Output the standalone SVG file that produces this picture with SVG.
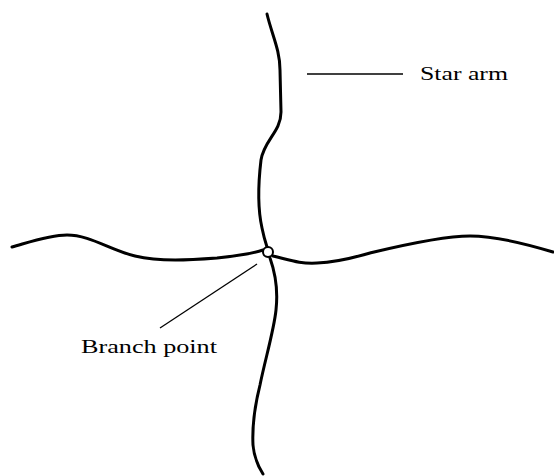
<svg xmlns="http://www.w3.org/2000/svg" width="554" height="476" viewBox="0 0 554 476">
  <style>
    .arm { fill: none; stroke: #000; stroke-width: 3; stroke-linecap: round; stroke-linejoin: round; }
    .lead { fill: none; stroke: #000; stroke-width: 1.3; }
    .lbl { font-family: "Liberation Serif", "Times New Roman", serif; font-size: 19px; fill: #000; }
  </style>
  <rect width="554" height="476" fill="#fff"/>
  <g id="connectors">
    <path id="arm-top" class="arm" d="M267,14 C272,35 280,50 280,70 L281,112 C281,132 264,140 261,160 C258,185 258,210 262,228 C264,238 266,244 267,247"/>
    <path id="arm-bottom" class="arm" d="M270,258 C276,275 278,292 276,310 C274,330 265,360 260,385 C255,405 252,425 253,445 C254,458 258,466 263,474"/>
    <path id="arm-left" class="arm" d="M12,247 C30,242 50,235 67,235 C90,235 110,250 135,256 C160,262 190,260 217,258 C235,256 252,254 263,250"/>
    <path id="arm-right" class="arm" d="M273,256 C290,260 300,264 317,263 C340,262 355,257 370,253 C395,247 440,236 470,236 C490,236 520,242 553,252"/>
    <line class="lead" x1="307" y1="74" x2="403" y2="74"/>
    <line class="lead" x1="160" y1="328" x2="257" y2="264"/>
  </g>
  <g id="branch-point">
    <circle cx="268" cy="252" r="5" fill="#fff" stroke="#000" stroke-width="2"/>
  </g>
  <g id="label-star-arm">
    <text class="lbl" x="420" y="80" textLength="88" lengthAdjust="spacingAndGlyphs">Star arm</text>
  </g>
  <g id="label-branch-point">
    <text class="lbl" x="81" y="353" textLength="136" lengthAdjust="spacingAndGlyphs">Branch point</text>
  </g>
</svg>
